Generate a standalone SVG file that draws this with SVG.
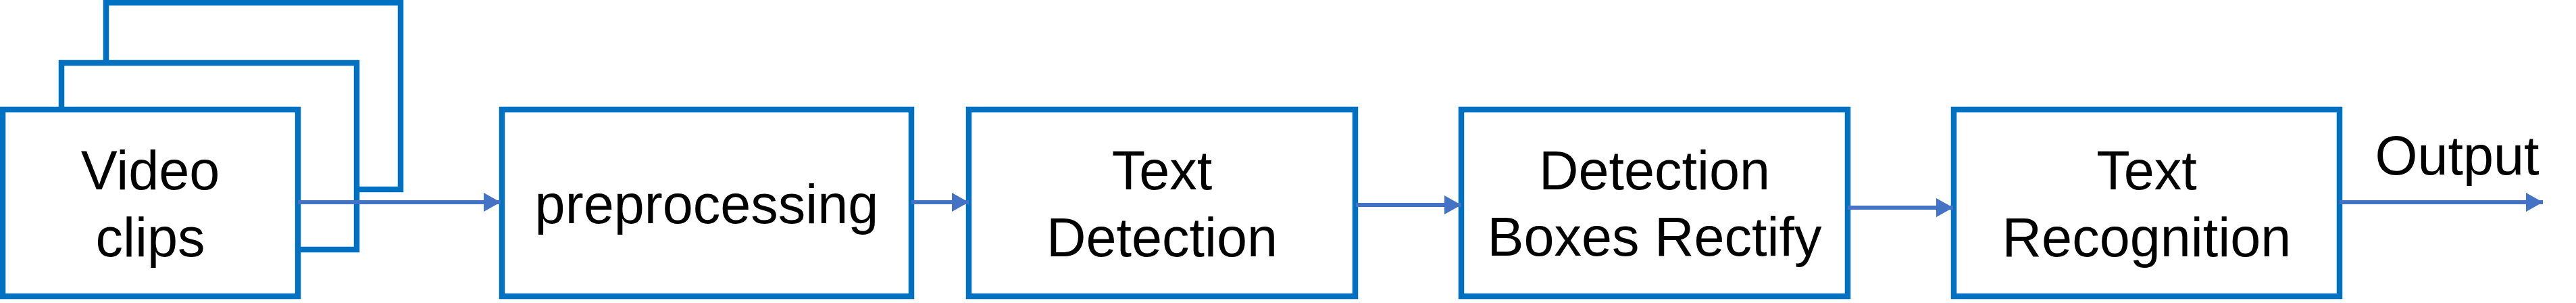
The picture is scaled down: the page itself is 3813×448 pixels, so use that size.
<svg xmlns="http://www.w3.org/2000/svg" width="3813" height="448" viewBox="0 0 3813 448">
<style>
.box{fill:#FFFFFF;stroke:#0070C0;stroke-width:8.5}
.lbl{font-family:"Liberation Sans",Arial,sans-serif;font-size:81px;fill:#000000;text-anchor:middle}
.conn{stroke:#4472C4;stroke-width:6;fill:none}
</style>
<defs>
<marker id="ah" markerUnits="userSpaceOnUse" markerWidth="26" markerHeight="28" refX="25" refY="14" orient="auto">
<path d="M0,0 L25,14 L0,28 Z" fill="#4472C4"/>
</marker>
</defs>
<rect width="3813" height="448" fill="#FFFFFF"/>
<g id="video-clips">
<rect class="box" x="157" y="4" width="436" height="276"/>
<rect class="box" x="91" y="93" width="437" height="276"/>
<rect class="box" x="4" y="162" width="437" height="276"/>
<text class="lbl" x="222.5" y="280">Video</text>
<text class="lbl" x="222.5" y="379">clips</text>
</g>
<g id="preprocessing">
<rect class="box" x="743" y="162" width="606" height="276"/>
<text class="lbl" x="1046" y="330">preprocessing</text>
</g>
<g id="text-detection">
<rect class="box" x="1434" y="162" width="572" height="276"/>
<text class="lbl" x="1720" y="280">Text</text>
<text class="lbl" x="1720" y="379">Detection</text>
</g>
<g id="boxes-rectify">
<rect class="box" x="2163" y="162" width="572" height="276"/>
<text class="lbl" x="2449" y="280">Detection</text>
<text class="lbl" x="2449" y="378">Boxes Rectify</text>
</g>
<g id="text-recognition">
<rect class="box" x="2892" y="162" width="571" height="276"/>
<text class="lbl" x="3177.5" y="280">Text</text>
<text class="lbl" x="3177.5" y="379">Recognition</text>
</g>
<g id="output-label">
<text class="lbl" x="3637" y="258">Output</text>
</g>
<g id="connectors">
<line class="conn" x1="441" y1="299" x2="741" y2="299" marker-end="url(#ah)"/>
<line class="conn" x1="1349" y1="299" x2="1434" y2="299" marker-end="url(#ah)"/>
<line class="conn" x1="2007" y1="303" x2="2163" y2="303" marker-end="url(#ah)"/>
<line class="conn" x1="2735" y1="307" x2="2891" y2="307" marker-end="url(#ah)"/>
<line class="conn" x1="3463" y1="299" x2="3764" y2="299" marker-end="url(#ah)"/>
</g>
</svg>
